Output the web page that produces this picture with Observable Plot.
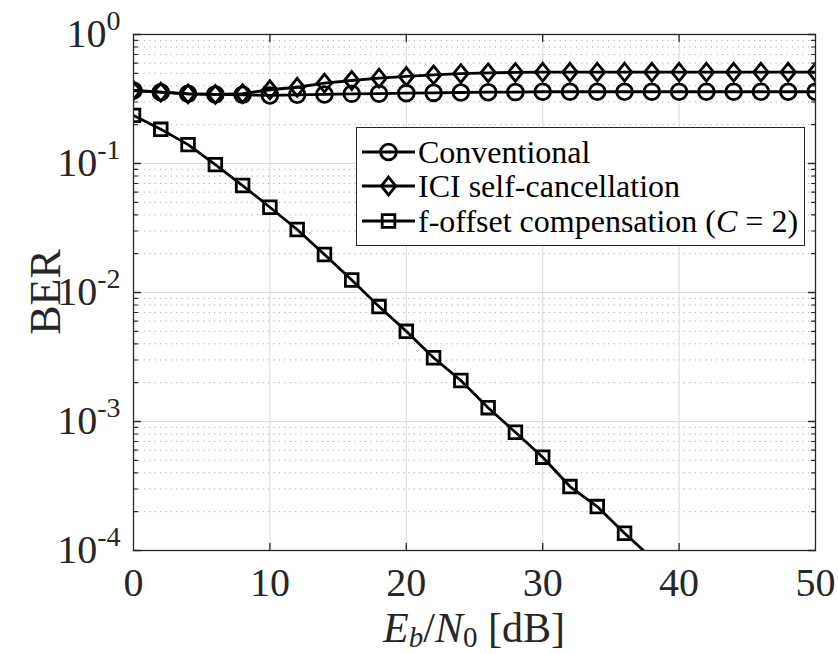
<!DOCTYPE html>
<html><head><meta charset="utf-8">
<script src="https://cdn.jsdelivr.net/npm/d3@7"></script>
<script src="https://cdn.jsdelivr.net/npm/@observablehq/plot@0.6"></script>
<style>
body{margin:0;background:#fff;}
#wrap{position:relative;width:838px;height:654px;}
</style></head><body><div id="wrap"></div>
<script>
// ---- data ----
const ebn0 = [0,2,4,6,8,10,12,14,16,18,20,22,24,26,28,30,32,34,36,38,40,42,44,46,48,50];
const conventional = [0.368,0.357,0.347,0.343,0.341,0.337,0.341,0.343,0.347,0.348,0.351,0.353,0.355,0.357,0.358,0.36,0.36,0.36,0.36,0.36,0.36,0.36,0.36,0.36,0.36,0.36];
const iciSelfCancel = [0.368,0.357,0.347,0.343,0.348,0.373,0.39,0.42,0.44,0.459,0.473,0.486,0.498,0.505,0.508,0.51,0.51,0.51,0.51,0.51,0.51,0.51,0.51,0.51,0.51,0.51];
const fOffsetX = [0,2,4,6,8,10,12,14,16,18,20,22,24,26,28,30,32,34,36,38];
const fOffset = [0.236,0.184,0.140,0.098,0.0675,0.0458,0.0308,0.0197,0.0125,0.00778,0.0050,0.00312,0.00208,0.00128,0.000826,0.000529,0.000313,0.000219,0.000136,0.0000875];
const seriesNames = ["Conventional","ICI self-cancellation","f-offset compensation"];
const xTicks = [0,10,20,30,40,50];
const xInner = [10,20,30,40];
const yDecades = [1,0.1,0.01,0.001,0.0001];
const yInner = [0.1,0.01,0.001];
const yMinor = [0.2,0.3,0.4,0.5,0.6,0.7,0.8,0.9,
  0.02,0.03,0.04,0.05,0.06,0.07,0.08,0.09,
  0.002,0.003,0.004,0.005,0.006,0.007,0.008,0.009,
  0.0002,0.0003,0.0004,0.0005,0.0006,0.0007,0.0008,0.0009];

const rows = [
  ...ebn0.map((x,i)=>({x, y: conventional[i], s: seriesNames[0]})),
  ...ebn0.map((x,i)=>({x, y: iciSelfCancel[i], s: seriesNames[1]})),
  ...fOffsetX.map((x,i)=>({x, y: fOffset[i], s: seriesNames[2]}))
];

// ---- symbols ----
const symCircle = {draw(ctx, size){ const r = Math.sqrt(size/Math.PI); ctx.moveTo(r,0); ctx.arc(0,0,r,0,2*Math.PI); }};
const symDiamond = {draw(ctx, size){ const r = Math.sqrt(size/Math.PI); const w=r*0.92, h=r*1.13; ctx.moveTo(0,-h); ctx.lineTo(w,0); ctx.lineTo(0,h); ctx.lineTo(-w,0); ctx.closePath(); }};
const symSquare = {draw(ctx, size){ const r = Math.sqrt(size/Math.PI); const a=r*0.8; ctx.rect(-a,-a,2*a,2*a); }};
const symbolOf = {[seriesNames[0]]: symCircle, [seriesNames[1]]: symDiamond, [seriesNames[2]]: symSquare};

const tickShape = {draw(ctx, l){ ctx.moveTo(0,0); ctx.lineTo(0,-l); }};
const axisColor = "#262626";
const lw = 2.8;
const mr = 7.9;
const serif = "'Liberation Serif', 'Times New Roman', Times, serif";

const plot = Plot.plot({
  width: 838, height: 654,
  marginLeft: 133, marginRight: 23, marginTop: 34, marginBottom: 104,
  style: {fontFamily: serif, fontSize: "40px", color: axisColor, background: "white"},
  x: {domain: [0,50]},
  y: {type: "log", domain: [0.0001, 1]},
  marks: [
    Plot.ruleY(yMinor, {stroke: "#a8a8a8", strokeWidth: 1, strokeDasharray: "1.2,4.2"}),
    Plot.ruleY(yInner, {stroke: "#dedede", strokeWidth: 1.2}),
    Plot.ruleX(xInner, {stroke: "#dedede", strokeWidth: 1.2}),
    Plot.line(rows, {x: "x", y: "y", z: "s", stroke: "black", strokeWidth: lw, clip: true}),
    Plot.dot(rows, {x: "x", y: "y", symbol: d => symbolOf[d.s], r: mr, stroke: "black", strokeWidth: lw, fill: "none", clip: true}),
    Plot.frame({stroke: axisColor, strokeWidth: 1.3}),
    Plot.vectorY(yDecades, {y: d=>d, frameAnchor: "left", rotate: 90, length: 7, anchor: "start", shape: tickShape, stroke: axisColor, strokeWidth: 1.3}),
    Plot.vectorY(yDecades, {y: d=>d, frameAnchor: "right", rotate: -90, length: 7, anchor: "start", shape: tickShape, stroke: axisColor, strokeWidth: 1.3}),
    Plot.vectorY(yMinor, {y: d=>d, frameAnchor: "left", rotate: 90, length: 4, anchor: "start", shape: tickShape, stroke: axisColor, strokeWidth: 1.1}),
    Plot.vectorY(yMinor, {y: d=>d, frameAnchor: "right", rotate: -90, length: 4, anchor: "start", shape: tickShape, stroke: axisColor, strokeWidth: 1.1}),
    Plot.vectorX(xInner, {x: d=>d, frameAnchor: "bottom", rotate: 0, length: 7, anchor: "start", shape: tickShape, stroke: axisColor, strokeWidth: 1.3}),
    Plot.vectorX(xInner, {x: d=>d, frameAnchor: "top", rotate: 180, length: 7, anchor: "start", shape: tickShape, stroke: axisColor, strokeWidth: 1.3}),
    Plot.axisX({anchor: "bottom", ticks: xTicks, tickSize: 0, tickPadding: 17, label: null, fontSize: 40, tickFormat: d => String(d)}),
    Plot.axisY({anchor: "left", ticks: yDecades, tickSize: 0, tickPadding: 13, label: null, fontSize: 40, tickFormat: d => String(Math.round(Math.log10(d)))})
  ]
});
document.getElementById("wrap").appendChild(plot);

const svg = d3.select(plot);
// superscripts on y tick labels
svg.selectAll('g[aria-label="y-axis tick label"] text').each(function(){
  const e = this.textContent;
  this.textContent = "10";
  d3.select(this).append("tspan").attr("dy", "-0.62em").style("font-size", "28px").text(e);
});

const xs = plot.scale("x"), ys = plot.scale("y");
const cx = (xs.range[0] + xs.range[1]) / 2;
const cy = (ys.range[0] + ys.range[1]) / 2;

// x label
const xl = svg.append("text").attr("x", cx).attr("y", 642).attr("text-anchor", "middle")
  .style("font-family", serif).style("font-size", "42px").attr("fill", axisColor);
xl.append("tspan").style("font-style", "italic").text("E");
xl.append("tspan").style("font-style", "italic").style("font-size", "29px").attr("dy", 5).text("b");
xl.append("tspan").attr("dy", -5).text("/");
xl.append("tspan").style("font-style", "italic").text("N");
xl.append("tspan").style("font-size", "29px").attr("dy", 5).text("0");
xl.append("tspan").attr("dy", -5).text(" [dB]");

// y label
svg.append("text").attr("transform", `translate(60,${cy}) rotate(-90)`).attr("text-anchor", "middle")
  .style("font-family", serif).style("font-size", "44px").attr("fill", axisColor).text("BER");

// legend
const lg = svg.append("g");
lg.append("rect").attr("x", 356.5).attr("y", 127.5).attr("width", 448).attr("height", 118)
  .attr("fill", "white").attr("stroke", axisColor).attr("stroke-width", 1);
const rowY = [152, 186, 221];
const legendSyms = [symCircle, symDiamond, symSquare];
seriesNames.forEach((name, i) => {
  const y = rowY[i];
  lg.append("line").attr("x1", 362).attr("x2", 415).attr("y1", y).attr("y2", y).attr("stroke", "black").attr("stroke-width", lw);
  lg.append("path").attr("transform", `translate(388.5,${y})`)
    .attr("d", d3.symbol().type(legendSyms[i]).size(Math.PI * mr * mr)())
    .attr("fill", "none").attr("stroke", "black").attr("stroke-width", lw);
  const t = lg.append("text").attr("x", 418).attr("y", y).attr("dy", "0.33em").attr("text-anchor", "start")
    .style("font-family", serif).style("font-size", "32px").attr("fill", "black");
  if (i === 2) {
    t.append("tspan").text("f-offset compensation (");
    t.append("tspan").style("font-style", "italic").text("C");
    t.append("tspan").text(" = 2)");
  } else {
    t.text(name);
  }
});
</script>
</body></html>
